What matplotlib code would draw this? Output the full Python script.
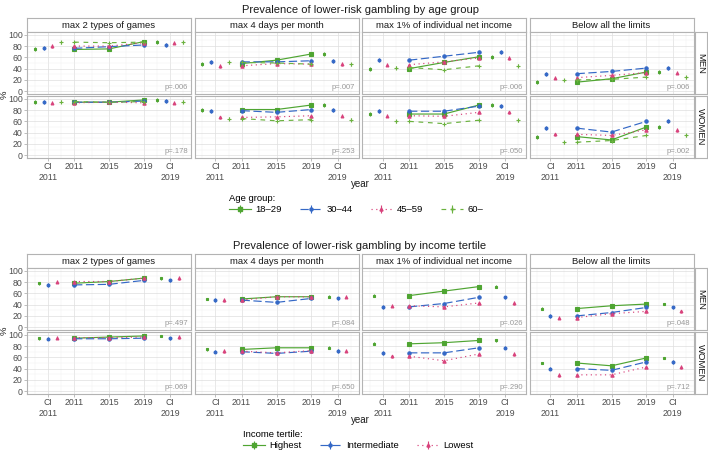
import matplotlib
matplotlib.use('Agg')
import matplotlib.pyplot as plt
from matplotlib.lines import Line2D
from matplotlib.legend_handler import HandlerTuple

plt.rcParams['font.family'] = ['Liberation Sans', 'DejaVu Sans']

# ---- data ----
years = [2011, 2015, 2019]
panel_titles = ['max 2 types of games', 'max 4 days per month',
                'max 1% of individual net income', 'Below all the limits']
row_titles = ['MEN', 'WOMEN']

age_groups = ['18–29', '30–44', '45–59', '60–']
# each list: one row per age group, values at 2011, 2015, 2019
age_men_games = [[74, 75, 88], [76, 79, 82], [80, 80, 86], [87, 86, 87]]
age_men_days = [[49, 55, 66], [52, 52, 54], [45, 49, 48], [51, 50, 48]]
age_men_income = [[40, 51, 61], [55, 62, 69], [47, 52, 59], [42, 38, 45]]
age_men_below = [[16, 22, 34], [31, 35, 41], [24, 28, 33], [20, 21, 25]]
age_women_games = [[94, 94, 98], [94, 94, 96], [93, 94, 93], [95, 94, 95]]
age_women_days = [[81, 81, 89], [79, 76, 81], [67, 68, 70], [65, 61, 63]]
age_women_income = [[73, 73, 89], [78, 78, 87], [70, 69, 76], [60, 56, 62]]
age_women_below = [[33, 27, 50], [48, 41, 60], [37, 35, 45], [23, 26, 35]]
age_ci = [3.5, 3.5, 3, 2.5]
age_p_men = ['p=.006', 'p=.007', 'p=.006', 'p=.006']
age_p_women = ['p=.178', 'p=.253', 'p=.050', 'p=.002']

income_groups = ['Highest', 'Intermediate', 'Lowest']
inc_men_games = [[78, 81, 87], [75, 76, 83], [81, 81, 87]]
inc_men_days = [[50, 54, 54], [48, 44, 51], [48, 54, 54]]
inc_men_income = [[56, 64, 72], [36, 42, 53], [38, 36, 43]]
inc_men_below = [[33, 38, 41], [20, 26, 35], [17, 24, 28]]
inc_women_games = [[94, 96, 98], [93, 93, 94], [95, 95, 96]]
inc_women_days = [[74, 77, 77], [70, 67, 71], [71, 68, 72]]
inc_women_income = [[84, 86, 90], [68, 68, 77], [62, 54, 66]]
inc_women_below = [[50, 45, 59], [40, 37, 52], [29, 29, 43]]
inc_ci = [2.5, 3, 3]
inc_p_men = ['p=.497', 'p=.084', 'p=.026', 'p=.048']
inc_p_women = ['p=.069', 'p=.650', 'p=.290', 'p=.712']

GREEN = '#4FA532'
GREEN2 = '#6BB23F'
BLUE = '#3468C6'
PINK = '#D8437C'

W, H = 708, 453
fig = plt.figure(figsize=(W / 100, H / 100), dpi=100)


def box(x, y, w, h):
    return [x / W, 1 - (y + h) / H, w / W, h / H]


COL_X = [27, 194.5, 362, 529.5]
PW, PH, SH = 164, 62, 14


def strip(x, y, w, h, text, rot=0):
    s = fig.add_axes(box(x, y, w, h))
    s.set_xticks([])
    s.set_yticks([])
    s.set_facecolor('white')
    for sp in s.spines.values():
        sp.set_color('#B3B3B3')
        sp.set_linewidth(0.8)
    s.text(0.5, 0.5, text, ha='center', va='center', rotation=rot,
           fontsize=6.8, color='#1A1A1A', transform=s.transAxes)


def draw_block(top, title, groups, colors, styles, markers, men, women, ci,
               p_men, p_women, dodge, leg_title, leg_x):
    fig.text(360 / W, 1 - (top - 8) / H, title, ha='center', va='center',
             fontsize=8, color='#1A1A1A')
    for c in range(4):
        strip(COL_X[c], top, PW, SH, panel_titles[c])
    for r, (rows, pv) in enumerate([(men, p_men), (women, p_women)]):
        y0 = top + SH + r * (PH + 2)
        strip(694.5, y0, 12.5, PH, row_titles[r], rot=270)
        for c in range(4):
            ax = fig.add_axes(box(COL_X[c], y0, PW, PH))
            data = rows[c]
            for g in range(len(groups)):
                ms = 2.4 if markers[g] != '+' else 3.2
                ax.plot(years, data[g], color=colors[g], dashes=styles[g],
                        lw=0.85, marker=markers[g], ms=ms, mew=0.8, zorder=3)
                ax.errorbar([2008 + dodge[g], 2022 + dodge[g]],
                            [data[g][0], data[g][2]], yerr=ci[g],
                            fmt=markers[g], color=colors[g], ms=ms * 0.85,
                            mew=0.8, elinewidth=0.8, capsize=0, zorder=3)
            ax.set_xlim(2005.6, 2024.4)
            ax.set_ylim(-5, 105)
            ax.set_xticks([2008, 2011, 2015, 2019, 2022])
            ax.set_xticklabels(['CI\n2011', '2011', '2015', '2019', 'CI\n2019'])
            ax.set_xticks([2006.5, 2009.5, 2013, 2017, 2020.5, 2023.5], minor=True)
            ax.set_yticks([0, 20, 40, 60, 80, 100])
            ax.set_yticks([10, 30, 50, 70, 90], minor=True)
            ax.grid(which='major', color='#DEDEDE', lw=0.5)
            ax.grid(which='minor', color='#EDEDED', lw=0.3)
            ax.set_axisbelow(True)
            for sp in ax.spines.values():
                sp.set_color('#B3B3B3')
                sp.set_linewidth(0.8)
            ax.tick_params(which='minor', length=0)
            ax.tick_params(which='major', length=2, color='#B3B3B3', width=0.6,
                           labelsize=6.3, labelcolor='#4D4D4D', pad=1.2,
                           left=(c == 0), bottom=(r == 1),
                           labelleft=(c == 0), labelbottom=(r == 1))
            ax.text(0.98, 0.05, pv[c], transform=ax.transAxes, ha='right',
                    va='bottom', fontsize=5.5, color='#999999')
    fig.text(4 / W, 1 - (top + SH + PH + 1) / H, '%', rotation=90,
             ha='center', va='center', fontsize=6.8, color='#1A1A1A')
    fig.text(360 / W, 1 - (top + SH + 2 * PH + 2 + 26) / H, 'year',
             ha='center', va='center', fontsize=7, color='#1A1A1A')

    handles = []
    for g in range(len(groups)):
        ln = Line2D([], [], color=colors[g], dashes=styles[g], lw=0.85)
        bar = Line2D([], [], color=colors[g], marker='|', ms=6, mew=0.8, ls='none')
        pt = Line2D([], [], color=colors[g], marker=markers[g], ms=2.2, ls='none')
        handles.append((ln, bar, pt))
    fig.legend(handles, groups, handler_map={tuple: HandlerTuple(ndivide=1)},
               loc='upper left', bbox_to_anchor=(leg_x / W, 1 - (top + 176) / H),
               ncol=len(groups), frameon=False, title=leg_title,
               alignment='left', fontsize=6.8, title_fontsize=6.8,
               handlelength=2.3, handletextpad=0.5, columnspacing=1.9,
               borderpad=0, borderaxespad=0, labelspacing=0.2)


draw_block(18, 'Prevalence of lower-risk gambling by age group', age_groups,
           [GREEN, BLUE, PINK, GREEN2],
           [(None, None), (7, 3), (1, 3), (4, 4)],
           ['s', 'o', '^', '+'],
           [age_men_games, age_men_days, age_men_income, age_men_below],
           [age_women_games, age_women_days, age_women_income, age_women_below],
           age_ci, age_p_men, age_p_women, [-1.5, -0.5, 0.5, 1.5],
           'Age group:', 229)

draw_block(254, 'Prevalence of lower-risk gambling by income tertile', income_groups,
           [GREEN, BLUE, PINK],
           [(None, None), (7, 3), (1, 3)],
           ['s', 'o', '^'],
           [inc_men_games, inc_men_days, inc_men_income, inc_men_below],
           [inc_women_games, inc_women_days, inc_women_income, inc_women_below],
           inc_ci, inc_p_men, inc_p_women, [-1, 0, 1],
           'Income tertile:', 243)

fig.savefig('out.png', dpi=100)
